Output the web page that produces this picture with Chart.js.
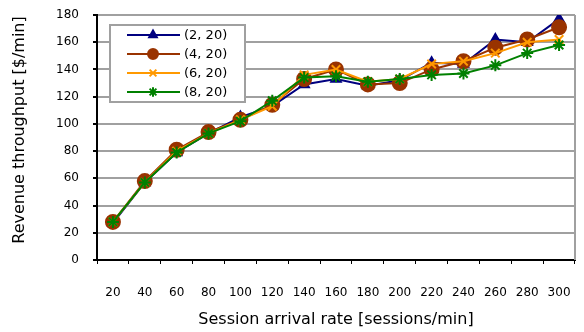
<!DOCTYPE html>
<html><head><meta charset="utf-8">
<script src="https://cdn.jsdelivr.net/npm/chart.js@4/dist/chart.umd.min.js"></script>
<style>html,body{margin:0;padding:0;background:#fff}#w{width:584px;height:332px}</style>
</head><body><div id="w"><canvas id="c" width="584" height="332"></canvas></div>
<script>
const categories = [20,40,60,80,100,120,140,160,180,200,220,240,260,280,300];
const yTicks = [0,20,40,60,80,100,120,140,160,180];
const seriesNames = ['(2, 20)','(4, 20)','(6, 20)','(8, 20)'];
const s2 = [27,57,79,93,105,113,129,133,128,132,145,144,162,160,177];
const s4 = [28,58,81,94,103,114,133,140,129,130,140,146,156,162,171];
const s6 = [28,57,80,93,103,113,136,140,131,133,144,146,152,160,162];
const s8 = [28,57,79,93,102,117,134,135,131,133,136,137,143,152,158];
const xTitle = 'Session arrival rate [sessions/min]';
const yTitle = 'Revenue throughput [$/min]';

const FONT = 'DejaVu Sans';
const styles = [
  {c:'#000080', p:'triangle', r:5.5},
  {c:'#993300', p:'circle', r:7},
  {c:'#FF9900', p:'crossRot', r:6},
  {c:'#008000', p:'star', r:6}
];
const vals = [s2,s4,s6,s8];
const datasets = vals.map((d,i)=>({
  label: seriesNames[i], data: d, borderColor: styles[i].c, backgroundColor: styles[i].c,
  pointStyle: styles[i].p, pointRadius: styles[i].r, pointBorderWidth: 2, borderWidth: 2,
  tension: 0, order: 3-i, pointHoverRadius: styles[i].r
}));

const deco = {
  id:'deco',
  afterDraw(chart){
    const ctx = chart.ctx, a = chart.chartArea;
    ctx.save();
    ctx.strokeStyle = '#a0a0a0'; ctx.lineWidth = 2;
    ctx.beginPath(); ctx.moveTo(a.right, a.top); ctx.lineTo(a.right, a.bottom); ctx.stroke();
    // y title
    ctx.save();
    ctx.translate(20, 130); ctx.rotate(-Math.PI/2);
    ctx.font = '16px "'+FONT+'"'; ctx.fillStyle = '#000';
    ctx.textAlign = 'center'; ctx.textBaseline = 'middle';
    ctx.fillText(yTitle, 0, 0);
    ctx.restore();
    // legend
    const bx = 110, by = 25, bw = 135, bh = 77;
    ctx.fillStyle = '#fff'; ctx.fillRect(bx,by,bw,bh);
    ctx.strokeStyle = '#a0a0a0'; ctx.lineWidth = 2; ctx.strokeRect(bx,by,bw,bh);
    const ys = [35,54,73,92];
    ctx.font = '13px "'+FONT+'"'; ctx.textBaseline = 'middle'; ctx.textAlign='left';
    datasets.forEach((ds,i)=>{
      const y = ys[i];
      ctx.strokeStyle = ds.borderColor; ctx.lineWidth = 2;
      ctx.beginPath(); ctx.moveTo(127,y); ctx.lineTo(180,y); ctx.stroke();
      ctx.fillStyle = ds.borderColor;
      Chart.helpers.drawPoint(ctx, {pointStyle: ds.pointStyle, radius: Math.min(ds.pointRadius*0.8, 5), borderWidth: 2, rotation:0}, 153, y);
      ctx.fillStyle = '#000';
      ctx.fillText(ds.label, 184, y+1);
    });
    ctx.restore();
  }
};

new Chart(document.getElementById('c'), {
  type:'line',
  data:{labels: categories, datasets},
  options:{
    responsive:false, animation:false, devicePixelRatio:1,
    layout:{padding:{left:10, right:6, top:15, bottom:0}},
    plugins:{legend:{display:false}, tooltip:{enabled:false}},
    scales:{
      x:{
        offset:true,
        grid:{display:true, drawOnChartArea:false, drawTicks:true, tickLength:4, tickColor:'#000', offset:true},
        border:{color:'#000', width:2},
        ticks:{color:'#000', font:{family:FONT, size:12}, padding:22, maxRotation:0, autoSkip:false},
        title:{display:true, text:xTitle, color:'#000', font:{family:FONT, size:16}, padding:{top:6,bottom:3}},
        afterFit(s){ s.height = 72; s.paddingLeft = 0; s.paddingRight = 0; }
      },
      y:{
        min:0, max:180,
        afterBuildTicks(s){ s.ticks = yTicks.map(v=>({value:v})); },
        grid:{color:'#a0a0a0', lineWidth:2, tickLength:4, tickColor:'#000'},
        border:{color:'#000', width:2},
        ticks:{color:'#000', font:{family:FONT, size:12}, padding:14},
        title:{display:false},
        afterFit(s){ s.width = 87; s.paddingTop = 0; s.paddingBottom = 0; }
      }
    }
  },
  plugins:[deco]
});
</script></body></html>
